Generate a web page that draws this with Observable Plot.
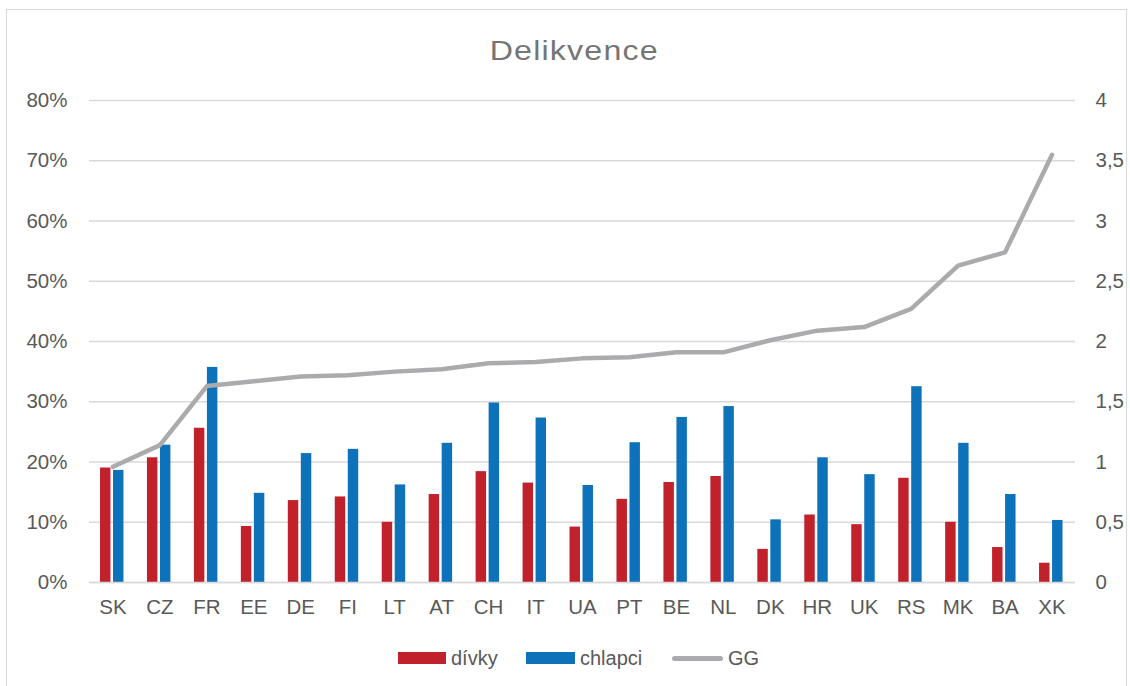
<!DOCTYPE html>
<html>
<head>
<meta charset="utf-8">
<script src="https://cdn.jsdelivr.net/npm/d3@7"></script>
<script src="https://cdn.jsdelivr.net/npm/@observablehq/plot@0.6"></script>
<style>
  html, body { margin: 0; padding: 0; background: #fff; width: 1130px; height: 686px; overflow: hidden; }
  body { position: relative; font-family: "Liberation Sans", Arial, sans-serif; color: #595959; }
  #frame { position: absolute; left: 6px; top: 9px; width: 1121px; height: 700px; border: 1px solid #D9D9D9; box-sizing: border-box; }
  #title { position: absolute; left: 9px; width: 1130px; top: 35px; text-align: center; font-size: 27.5px; color: #757575; }
  #title span { display: inline-block; transform: scaleX(1.17); letter-spacing: 1px; transform-origin: center; }
  #chart { position: absolute; left: 0; top: 0; }
  #legend { position: absolute; top: 645px; left: 0; width: 1130px; height: 26px; font-size: 20px; color: #595959; }
  .lg { position: absolute; top: 0; display: flex; align-items: center; height: 26px; }
  .sw { display: inline-block; margin-right: 5px; }
</style>
</head>
<body>
<div id="frame"></div>
<div id="title"><span>Delikvence</span></div>
<div id="chart"></div>
<div id="legend">
  <div class="lg" style="left:398px"><span class="sw" style="width:48px;height:12px;background:#C0212A"></span>dívky</div>
  <div class="lg" style="left:526px"><span class="sw" style="width:49px;height:12px;background:#0E72BA"></span>chlapci</div>
  <div class="lg" style="left:672px"><span class="sw" style="width:51px;height:5px;border-radius:3px;background:#ABABAE"></span>GG</div>
</div>
<script>
const countries = ["SK","CZ","FR","EE","DE","FI","LT","AT","CH","IT","UA","PT","BE","NL","DK","HR","UK","RS","MK","BA","XK"];
const divky   = [19.0,20.7,25.6,9.3,13.6,14.2,10.0,14.6,18.4,16.5,9.2,13.8,16.6,17.6,5.5,11.2,9.6,17.3,10.0,5.8,3.2];
const chlapci = [18.6,22.8,35.7,14.8,21.4,22.1,16.2,23.1,29.8,27.3,16.1,23.2,27.4,29.2,10.4,20.7,17.9,32.5,23.1,14.6,10.3];
const gg      = [0.96,1.14,1.63,1.67,1.71,1.72,1.75,1.77,1.82,1.83,1.86,1.87,1.91,1.91,2.01,2.09,2.12,2.27,2.63,2.74,3.55];
const leftTicks  = [0,10,20,30,40,50,60,70,80];
const rightTicks = [0,0.5,1,1.5,2,2.5,3,3.5,4];

const rows = countries.map((c, i) => ({c, d: divky[i], ch: chlapci[i], gg: gg[i]}));
const ratio = 80 / 4; // right axis maps 0..4 onto 0..80%

const plot = Plot.plot({
  width: 1130,
  height: 630,
  marginTop: 100,
  marginBottom: 48,
  marginLeft: 89,
  marginRight: 55,
  style: {fontFamily: "'Liberation Sans', Arial, sans-serif", fontSize: "20.5px", color: "#595959", background: "transparent"},
  x: {domain: countries, padding: 0, round: false, label: null},
  y: {domain: [0, 80], label: null},
  marks: [
    Plot.gridY(leftTicks, {stroke: "#D9D9D9", strokeOpacity: 1, strokeWidth: 1.3}),
    Plot.axisY(leftTicks, {anchor: "left", tickSize: 0, tickPadding: 22, tickFormat: d => d + "%", label: null, fill: "#595959"}),
    Plot.axisY(rightTicks.map(v => v * ratio), {anchor: "right", tickSize: 0, tickPadding: 20, textAnchor: "start", tickFormat: d => String(d / ratio).replace(".", ","), label: null, fill: "#595959"}),
    Plot.axisX({tickSize: 0, tickPadding: 17, label: null, fill: "#595959"}),
    Plot.barY(rows, {x: "c", y: "d", fill: "#C0212A", insetLeft: 11, insetRight: 25.5}),
    Plot.barY(rows, {x: "c", y: "ch", fill: "#0E72BA", insetLeft: 24, insetRight: 12.5}),
    Plot.ruleY([0], {stroke: "#D9D9D9", strokeWidth: 1.3}),
    Plot.line(rows, {x: "c", y: d => d.gg * ratio, stroke: "#ABABAE", strokeWidth: 4.5, strokeLinecap: "round", strokeLinejoin: "round"})
  ]
});
document.getElementById("chart").appendChild(plot);
</script>
</body>
</html>
